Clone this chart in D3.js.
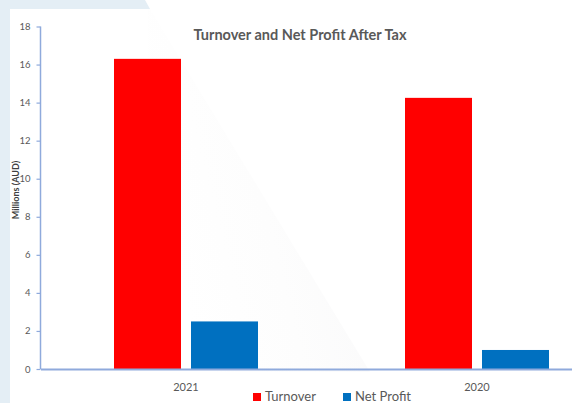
<!DOCTYPE html>
<html>
<head>
<meta charset="utf-8">
<script src="https://cdn.jsdelivr.net/npm/d3@7"></script>
<style>
  html, body { margin: 0; padding: 0; background: #ffffff; }
  svg { display: block; font-family: Lato, "Open Sans", sans-serif; }
</style>
</head>
<body>
<svg id="chart" width="572" height="403"></svg>
<script>
// Chart data
const categories = ["2021", "2020"];
const seriesNames = ["Turnover", "Net Profit"];
const turnover = [16.3, 14.25];
const netProfit = [2.5, 1.0];
const yTicks = [0, 2, 4, 6, 8, 10, 12, 14, 16, 18];
const seriesColors = ["#ff0000", "#0070c0"];

const rows = categories.map((c, i) => ({ category: c, values: [turnover[i], netProfit[i]] }));

const W = 572, H = 403;
const svg = d3.select("#chart");
const axisColor = "#8faadc";
const textColor = "#595959";

// Slide backdrop: pale blue border with a diagonal cut, faint shaded wedge
svg.append("rect").attr("x", 0).attr("y", 0).attr("width", W).attr("height", H).attr("fill", "#ffffff");
svg.append("path")
  .attr("d", "M0,0 L145,0 L150,9 L10,9 L10,403 L0,403 Z")
  .attr("fill", "#e4eef5");
const defs = svg.append("defs");
const grad = defs.append("linearGradient").attr("id", "wedge")
  .attr("x1", "1").attr("y1", "0").attr("x2", "0").attr("y2", "0.4");
grad.append("stop").attr("offset", "0").attr("stop-color", "#f8f8f9");
grad.append("stop").attr("offset", "0.6").attr("stop-color", "#fdfdfd");
grad.append("stop").attr("offset", "1").attr("stop-color", "#ffffff");
svg.append("path")
  .attr("d", "M148,9 L150,9 L370,372 L150,372 Z")
  .attr("fill", "url(#wedge)");

// Scales
const y = d3.scaleLinear().domain([0, 18]).range([369, 26.5]);
const x0 = d3.scaleBand().domain(categories).range([40.5, 622.5]).padding(0);
const groupW = 144;
const x1 = d3.scaleBand().domain(seriesNames).range([0, groupW]).paddingInner(0.13);

// Bars
const groups = svg.append("g").selectAll("g").data(rows).join("g")
  .attr("transform", d => `translate(${x0(d.category) + (x0.bandwidth() - groupW) / 2},0)`);
groups.selectAll("rect")
  .data(d => d.values.map((v, i) => ({ name: seriesNames[i], value: v, color: seriesColors[i] })))
  .join("rect")
  .attr("x", d => x1(d.name))
  .attr("width", x1.bandwidth())
  .attr("y", d => y(d.value))
  .attr("height", d => y(0) - y(d.value))
  .attr("fill", d => d.color);

// Y axis
const yAxis = d3.axisLeft(y).tickValues(yTicks).tickSize(4).tickPadding(6);
const gy = svg.append("g").attr("transform", "translate(40.5,0)").call(yAxis);
gy.select(".domain").attr("stroke", axisColor).attr("stroke-width", 1.5).attr("d", `M0,${y(18)}V${y(0)}`);
gy.selectAll(".tick line").attr("stroke", axisColor).attr("stroke-width", 1.2);
gy.selectAll(".tick text").attr("fill", textColor).attr("font-size", 9.5).style("font-family", "Lato, sans-serif");

// X axis
const xAxis = d3.axisBottom(x0).tickSize(0).tickPadding(14);
const gx = svg.append("g").attr("transform", `translate(0,${y(0)})`).call(xAxis);
gx.select(".domain").attr("stroke", axisColor).attr("stroke-width", 2);
gx.selectAll(".tick text").attr("fill", textColor).attr("font-size", 11).style("font-family", "Lato, sans-serif");

// Title
svg.append("text").attr("x", 300).attr("y", 40).attr("text-anchor", "middle")
  .attr("font-size", 14.5).attr("font-weight", "bold").attr("fill", textColor)
  .text("Turnover and Net Profit After Tax");

// Y axis title
svg.append("text").attr("transform", "translate(19,190) rotate(-90)")
  .attr("text-anchor", "middle").attr("font-size", 9).attr("font-weight", "bold")
  .attr("fill", "#404040").text("Millions (AUD)");

// Legend
const legendX = [253, 343];
const legend = svg.append("g").selectAll("g").data(seriesNames).join("g")
  .attr("transform", (d, i) => `translate(${legendX[i]},392)`);
legend.append("rect").attr("y", 1).attr("width", 8).attr("height", 8).attr("fill", (d, i) => seriesColors[i]);
legend.append("text").attr("x", 12).attr("y", 8.5).attr("font-size", 13)
  .attr("fill", textColor).text(d => d);
</script>
</body>
</html>
